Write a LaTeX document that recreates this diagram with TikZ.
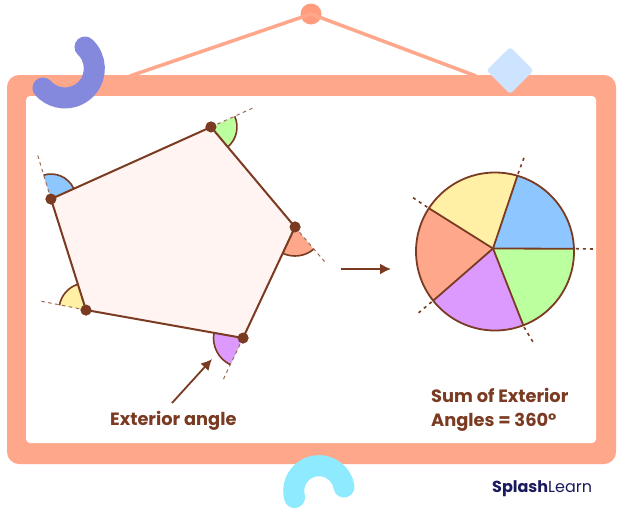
\documentclass[tikz,border=0pt]{standalone}
\usepackage{fontspec}
\setmainfont{Poppins}
\usetikzlibrary{arrows.meta,calc,positioning}
\definecolor{brownline}{HTML}{7A3B22}
\definecolor{frameorange}{HTML}{FFA78A}
\definecolor{nailorange}{HTML}{FF9C7D}
\definecolor{pinkfill}{HTML}{FFF4F1}
\definecolor{skyfill}{HTML}{8EC6FF}
\definecolor{greenfill}{HTML}{BBFF9F}
\definecolor{yellowfill}{HTML}{FFF0A6}
\definecolor{purplefill}{HTML}{DC9AFF}
\definecolor{logoblue}{HTML}{1A1A5E}
\definecolor{hookblue}{HTML}{8589DD}
\definecolor{tagblue}{HTML}{CCE4FF}
\definecolor{arccyan}{HTML}{8EEBFF}
\tikzset{every picture/.style={
  >={Latex[length=11pt,width=11pt]}  % Heavy arrow heads.
  }
}

\begin{document}
\begin{tikzpicture}[
    x=1pt,y=1pt,
    vertex/.style={
      circle,
      fill=brownline,
      inner sep=0pt,
      minimum size=11pt
    },
    extline/.style={
      draw=brownline!75,
      line width=1pt,
      dash pattern=on 3.5pt off 3.5pt
    },
    pietick/.style={
      draw=brownline,
      line width=1.6pt,
      dash pattern=on 3pt off 4pt
    },
    caption/.style={
      font=\bfseries\fontsize{17.8}{24}\selectfont,
      text=brownline,
      inner sep=0pt,
      align=left
    }]

    \useasboundingbox (0,0) rectangle (620,-509);
    \fill[white] (0,0) rectangle (620,-509);

    % Helper macro: one exterior angle at a vertex.
    \def\extang#1#2#3#4#5{
        \fill[#5] (#1.center) -- ([shift={(#2:#4)}] #1.center)
          arc[start angle=#2,end angle=#3,radius=#4] -- cycle;
        \draw[brownline,line width=1.6pt] ([shift={(#2:#4)}] #1.center)
          arc[start angle=#2,end angle=#3,radius=#4];
        }

    % Draw the hanging wire and the board.
    \node[circle,fill=nailorange,inner sep=0pt,minimum size=21pt] (nail) at (311,-14) {};
    \coordinate (wireleft) at (130,-76);
    \coordinate (wireright) at (476,-76);
    \draw[frameorange,line width=3.5pt] (wireleft) -- (nail.center) -- (wireright);
    \fill[frameorange,rounded corners=12pt] (7,-75) rectangle (616,-464);
    \fill[white,rounded corners=4pt] (26,-96) rectangle (596,-443);

    % Draw the three decorations.
    \draw[color=hookblue,line width=21pt,line cap=round] (85,-47)
      arc[start angle=47,end angle=-138.5,radius=29.4];
    \fill[tagblue,rounded corners=3pt] (510,-47) -- (533.5,-70.5) -- (510,-94)
      -- (486.5,-70.5) -- cycle;
    \draw[arccyan,line width=21pt,line cap=round] (344,-487)
      arc[start angle=9,end angle=195,radius=25.3];

    % Draw the pentagon.
    \node[vertex] (va) at (211,-127) {};
    \node[vertex] (vb) at (295,-227) {};
    \node[vertex] (vc) at (243,-338) {};
    \node[vertex] (vd) at (86,-310) {};
    \node[vertex] (ve) at (51,-199) {};
    \fill[pinkfill] (va.center) -- (vb.center) -- (vc.center) -- (vd.center)
      -- (ve.center) -- cycle;

    % Draw the exterior angles and their dashed extensions.
    \extang{ve}{24.2}{107.5}{25}{skyfill};
    \extang{va}{-50}{24.2}{26}{greenfill};
    \extang{vb}{-115.1}{-50}{29}{frameorange};
    \extang{vc}{169.9}{244.9}{29.5}{purplefill};
    \extang{vd}{107.5}{169.9}{27}{yellowfill};
    \draw[extline] (ve.center) -- (37,-153);
    \draw[extline] (va.center) -- (255,-107);
    \draw[extline] (vb.center) -- (325,-262);
    \draw[extline] (vc.center) -- (223,-380);
    \draw[extline] (vd.center) -- (40,-301);
    \draw[brownline,line width=2pt] (va.center) -- (vb.center) -- (vc.center)
      -- (vd.center) -- (ve.center) -- cycle;
    \foreach \v in {va,vb,vc,vd,ve}
      \node[vertex] at (\v) {};

    % Draw the two arrows.
    \coordinate (anglefoot) at (172,-403);
    \coordinate (anglehead) at (212,-359);
    \draw[->,brownline,line width=1.8pt] (anglefoot) -- (anglehead);
    \coordinate (mapfoot) at (341,-269);
    \coordinate (maphead) at (391,-269);
    \draw[->,brownline,line width=1.8pt] (mapfoot) -- (maphead);

    % Draw the pie made of the same angles.
    \coordinate (hub) at (493,-248.5);
    \coordinate (pie) at (495,-251.5);
    \foreach \a/\b/\c in {2/73.5/skyfill,73.5/146.8/yellowfill,146.8/218.5/frameorange,
        218.5/291/purplefill,291/362/greenfill}{
      \fill[\c] (hub) -- ($(pie)+(\a:79)$)
        arc[start angle=\a,end angle=\b,radius=79] -- cycle;
    }
    \draw[brownline,line width=1.8pt] (pie) circle[radius=79];
    \foreach \a/\x/\y in {2/594/-249,73.5/525/-155,146.8/412/-197,218.5/416/-315,291/533/-342}{
      \draw[brownline,line width=1.8pt] (hub) -- ($(pie)+(\a:79)$);
      \draw[pietick] ($(pie)+(\a:81)$) -- (\x,\y);
    }

    % Draw the captions.
    \node[caption,anchor=base west] (extlabel) at (110,-425) {Exterior angle};
    \node[caption,anchor=base west] (sumlabel) at (431,-426)
      {Sum of Exterior\\Angles = 360°};
    \node[anchor=base west,inner sep=0pt,text=logoblue,font=\fontsize{16}{18}\selectfont]
      (logo) at (492,-492) {\textbf{Splash}Learn};
  \end{tikzpicture}
\end{document}
